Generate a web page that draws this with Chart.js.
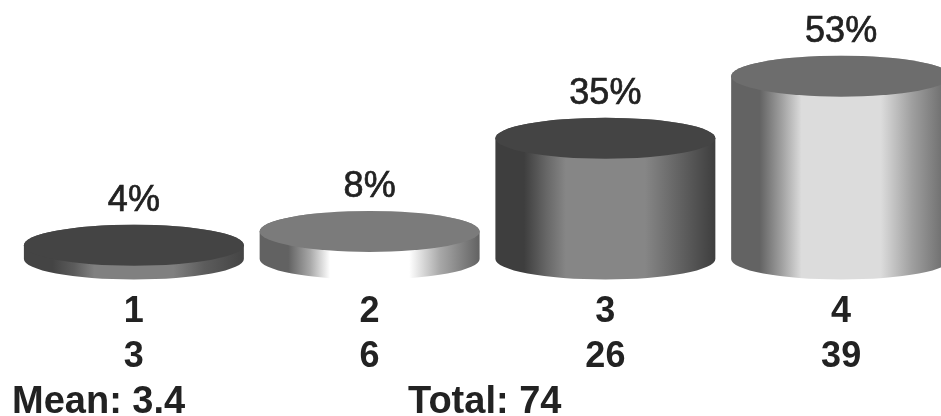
<!DOCTYPE html>
<html>
<head>
<meta charset="utf-8">
<title>Ratings</title>
<script src="https://cdn.jsdelivr.net/npm/chart.js@4/dist/chart.umd.js"></script>
<style>
html, body { margin: 0; padding: 0; background: #fff; overflow: hidden; width: 941px; height: 416px; }
canvas { display: block; }
</style>
</head>
<body>
<canvas id="cylinders" width="959" height="416" style="width:959px;height:416px"></canvas>
<script>
var categories = ["1", "2", "3", "4"];
var counts = ["3", "6", "26", "39"];
var percents = [4, 8, 35, 53];
var summaries = ["Mean: 3.4", "Total: 74"];

// shades for each cylinder
var topShades = ["#444444", "#7b7b7b", "#444444", "#6d6d6d"];
var edgeShades = ["#444444", "#626262", "#3e3e3e", "#636363"];
var blendShades = ["#5c5c5c", "#a8a8a8", "#666666", "#a0a0a0"];
var midShades = ["#808080", "#ffffff", "#868686", "#dcdcdc"];

var FONT = "'Liberation Sans', Arial, sans-serif";
var RY = 20.5;

var cylinderPlugin = {
	id: "cylinders",
	afterDatasetsDraw: function(chart) {
		var ctx = chart.ctx;
		var bars = chart.getDatasetMeta(0).data;

		bars.forEach(function(bar, i) {
			var rx = bar.width / 2;
			var left = bar.x - rx;
			var right = bar.x + rx;

			var side = ctx.createLinearGradient(left, 0, right, 0);
			side.addColorStop(0, edgeShades[i]);
			side.addColorStop(0.13, edgeShades[i]);
			side.addColorStop(0.23, blendShades[i]);
			side.addColorStop(0.32, midShades[i]);
			side.addColorStop(0.68, midShades[i]);
			side.addColorStop(0.82, blendShades[i]);
			side.addColorStop(1, edgeShades[i]);

			ctx.save();
			ctx.beginPath();
			ctx.moveTo(left, bar.y);
			ctx.lineTo(left, bar.base);
			ctx.ellipse(bar.x, bar.base, rx, RY, 0, Math.PI, 0, true);
			ctx.lineTo(right, bar.y);
			ctx.ellipse(bar.x, bar.y, rx, RY, 0, 0, Math.PI, true);
			ctx.closePath();
			ctx.fillStyle = side;
			ctx.fill();

			ctx.beginPath();
			ctx.ellipse(bar.x, bar.y, rx, RY, 0, 0, Math.PI * 2);
			ctx.fillStyle = topShades[i];
			ctx.fill();

			// percent above the lid, thickened a little
			ctx.fillStyle = "#222";
			ctx.strokeStyle = "#222";
			ctx.lineWidth = 0.7;
			ctx.font = "36px " + FONT;
			ctx.textAlign = "center";
			ctx.textBaseline = "middle";
			ctx.fillText(percents[i] + "%", bar.x, bar.y - 44.5);
			ctx.strokeText(percents[i] + "%", bar.x, bar.y - 44.5);
			ctx.restore();
		});

		ctx.save();
		ctx.fillStyle = "#222";
		ctx.font = "bold 38px " + FONT;
		ctx.textAlign = "left";
		ctx.textBaseline = "alphabetic";
		ctx.fillText(summaries[0], 12, 413);
		ctx.fillText(summaries[1], 408, 413);
		ctx.restore();
	}
};

var chart = new Chart(document.getElementById("cylinders"), {
	type: "bar",
	data: {
		labels: categories.map(function(c, i) { return [c, counts[i]]; }),
		datasets: [
			{
				data: percents,
				backgroundColor: "rgba(0,0,0,0)",
				categoryPercentage: 1,
				barPercentage: 0.933
			}
		]
	},
	options: {
		responsive: false,
		animation: false,
		layout: { padding: { left: 16, top: 52 } },
		plugins: {
			legend: { display: false },
			tooltip: { enabled: false }
		},
		scales: {
			y: { display: false, min: 0, max: 60 },
			x: {
				grid: { display: false },
				border: { display: false },
				afterFit: function(scale) { scale.height = 157; },
				ticks: {
					color: "#222",
					padding: 23,
					maxRotation: 0,
					font: { family: FONT, size: 36, weight: "bold", lineHeight: 1.25 }
				}
			}
		}
	},
	plugins: [cylinderPlugin]
});
</script>
</body>
</html>
